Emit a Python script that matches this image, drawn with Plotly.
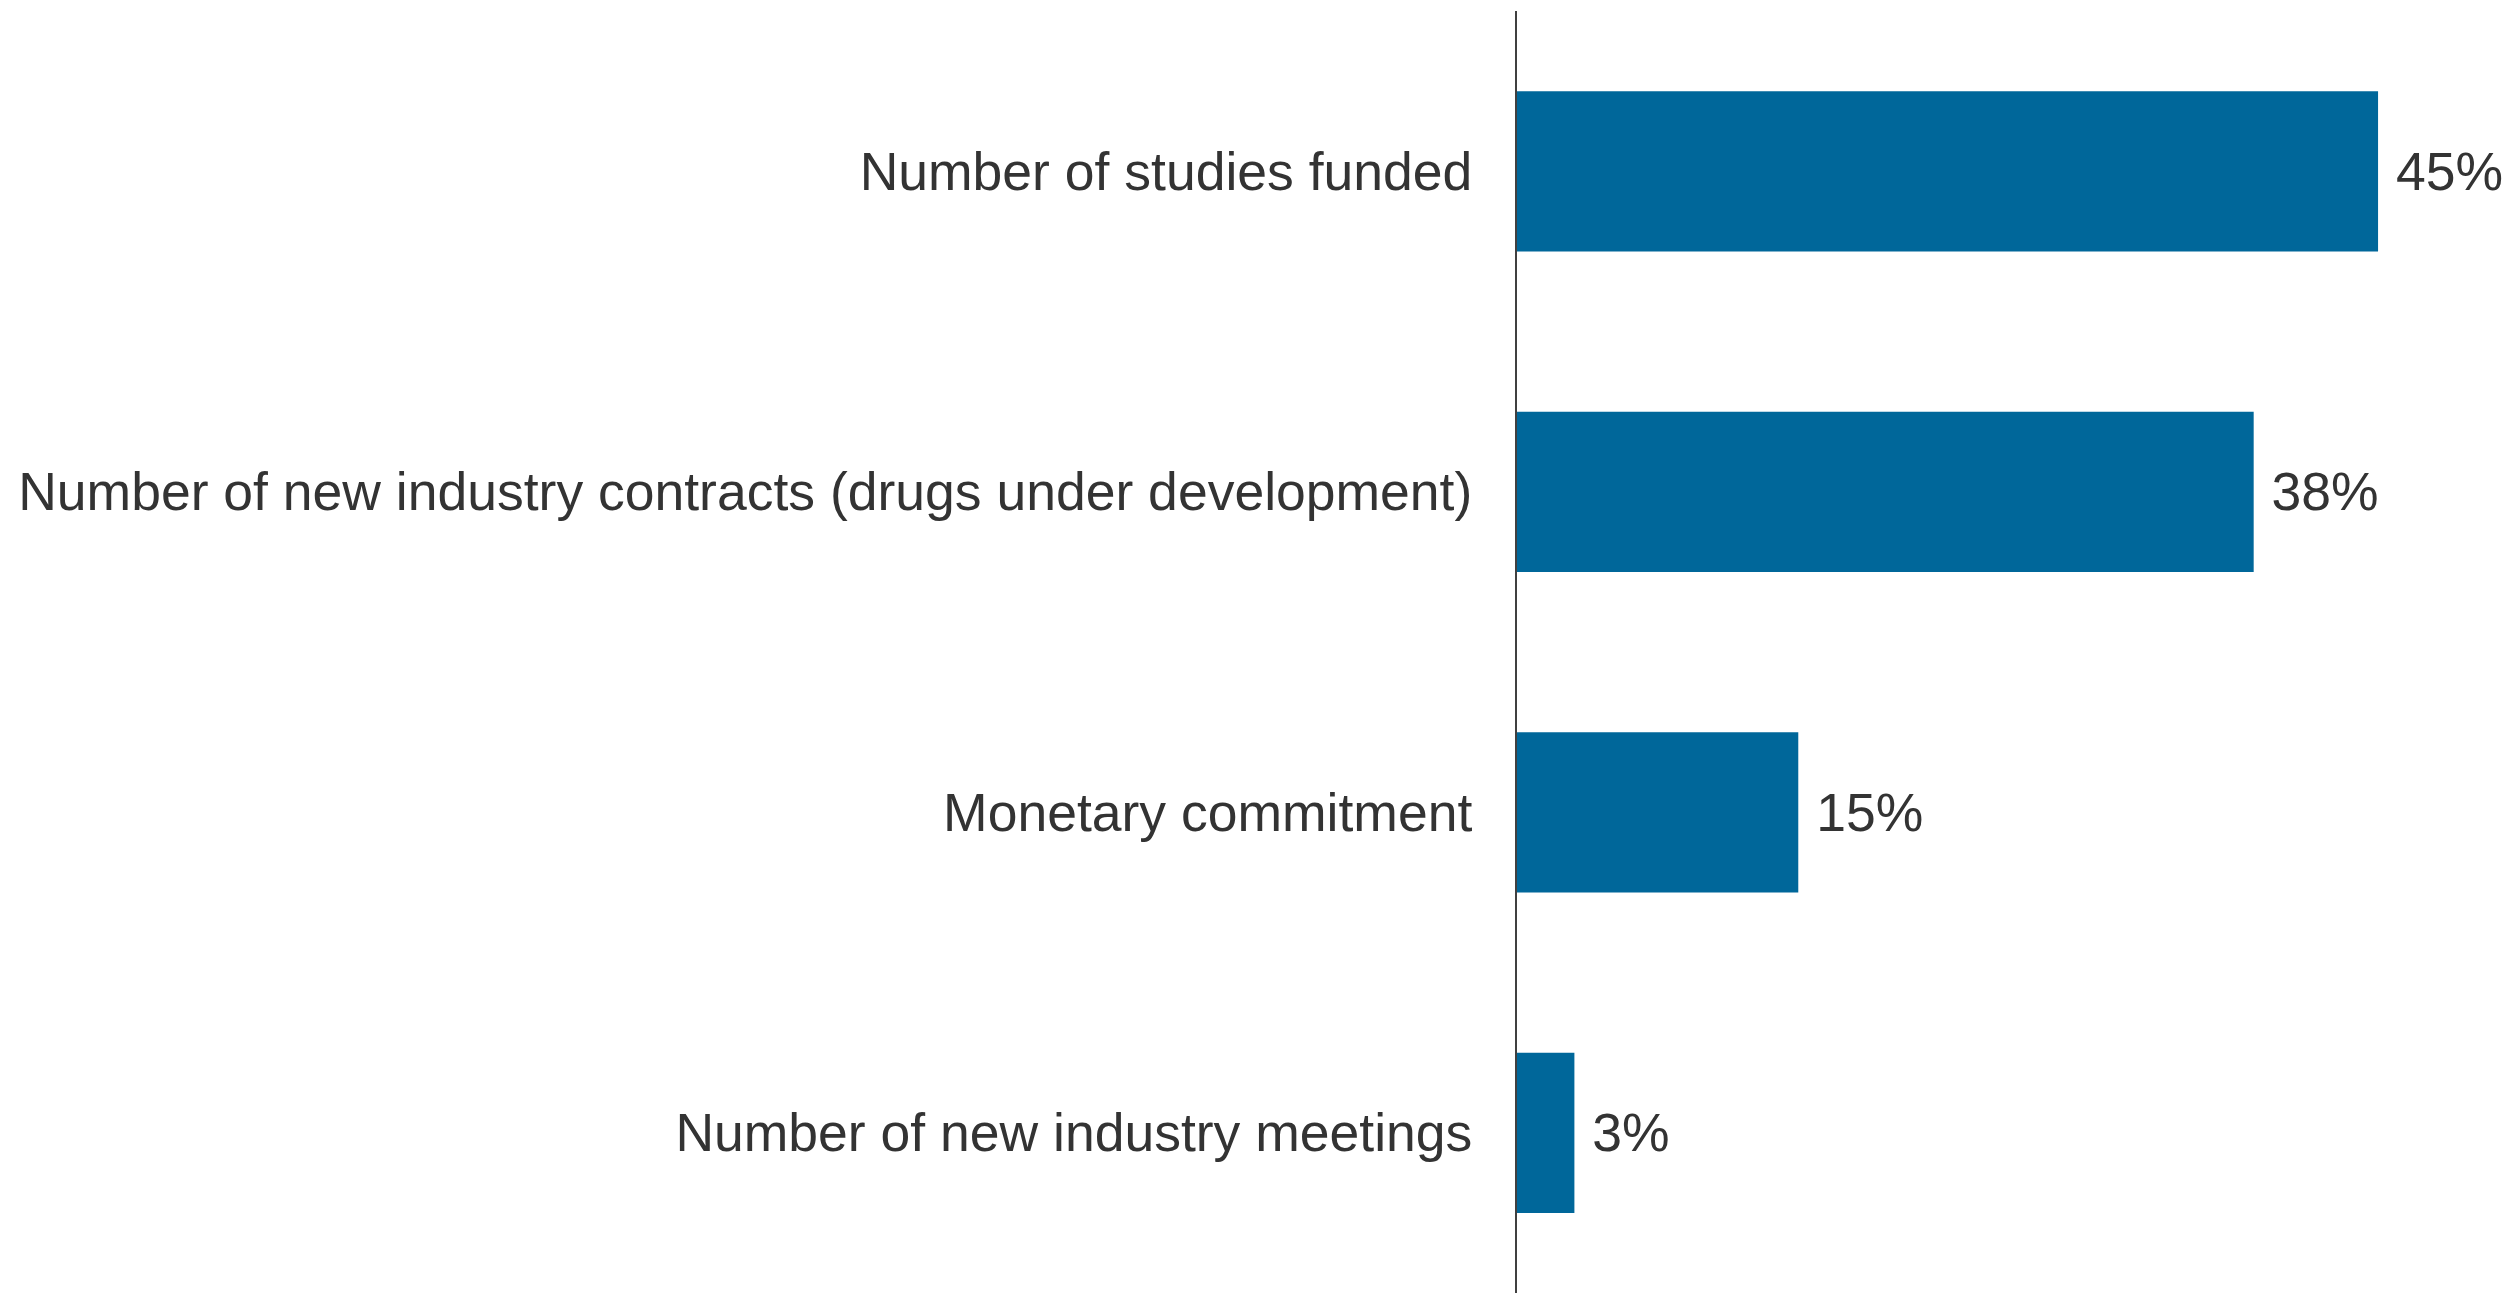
import plotly.graph_objects as go

# Data (bar lengths estimated, labels as printed)
categories = [
    "Number of studies funded",
    "Number of new industry contracts (drugs under development)",
    "Monetary commitment",
    "Number of new industry meetings",
]
shares = [45.0, 38.5, 14.7, 3.0]
share_labels = ["45%", "38%", "15%", "3%"]

bar_color = "#00679A"
text_color = "#333333"
font_family = "Liberation Sans, Arial, sans-serif"

fig = go.Figure(
    go.Bar(
        x=shares,
        y=categories,
        orientation="h",
        marker=dict(color=bar_color, line=dict(width=0)),
        text=["\u00a0" + s for s in share_labels],
        textposition="outside",
        textfont=dict(size=53.5, color=text_color, family=font_family),
        cliponaxis=False,
        width=0.5,
    )
)

# page body has an 8px default margin, so the figure is 8px smaller
fig.update_layout(
    width=2504,
    height=1285,
    margin=dict(l=1509, r=0, t=3, b=0),
    plot_bgcolor="white",
    paper_bgcolor="white",
    showlegend=False,
    font=dict(family=font_family, size=53.5, color=text_color),
    bargap=0.5,
)

fig.update_xaxes(
    range=[0, 52],
    visible=False,
    showgrid=False,
    zeroline=False,
)

fig.update_yaxes(
    autorange="reversed",
    showgrid=False,
    zeroline=False,
    showline=True,
    linecolor="#404040",
    linewidth=2,
    ticks="",
    ticklabelstandoff=32,
    tickfont=dict(size=53.5, color=text_color, family=font_family),
    automargin=False,
)

fig.write_html("out.html")
